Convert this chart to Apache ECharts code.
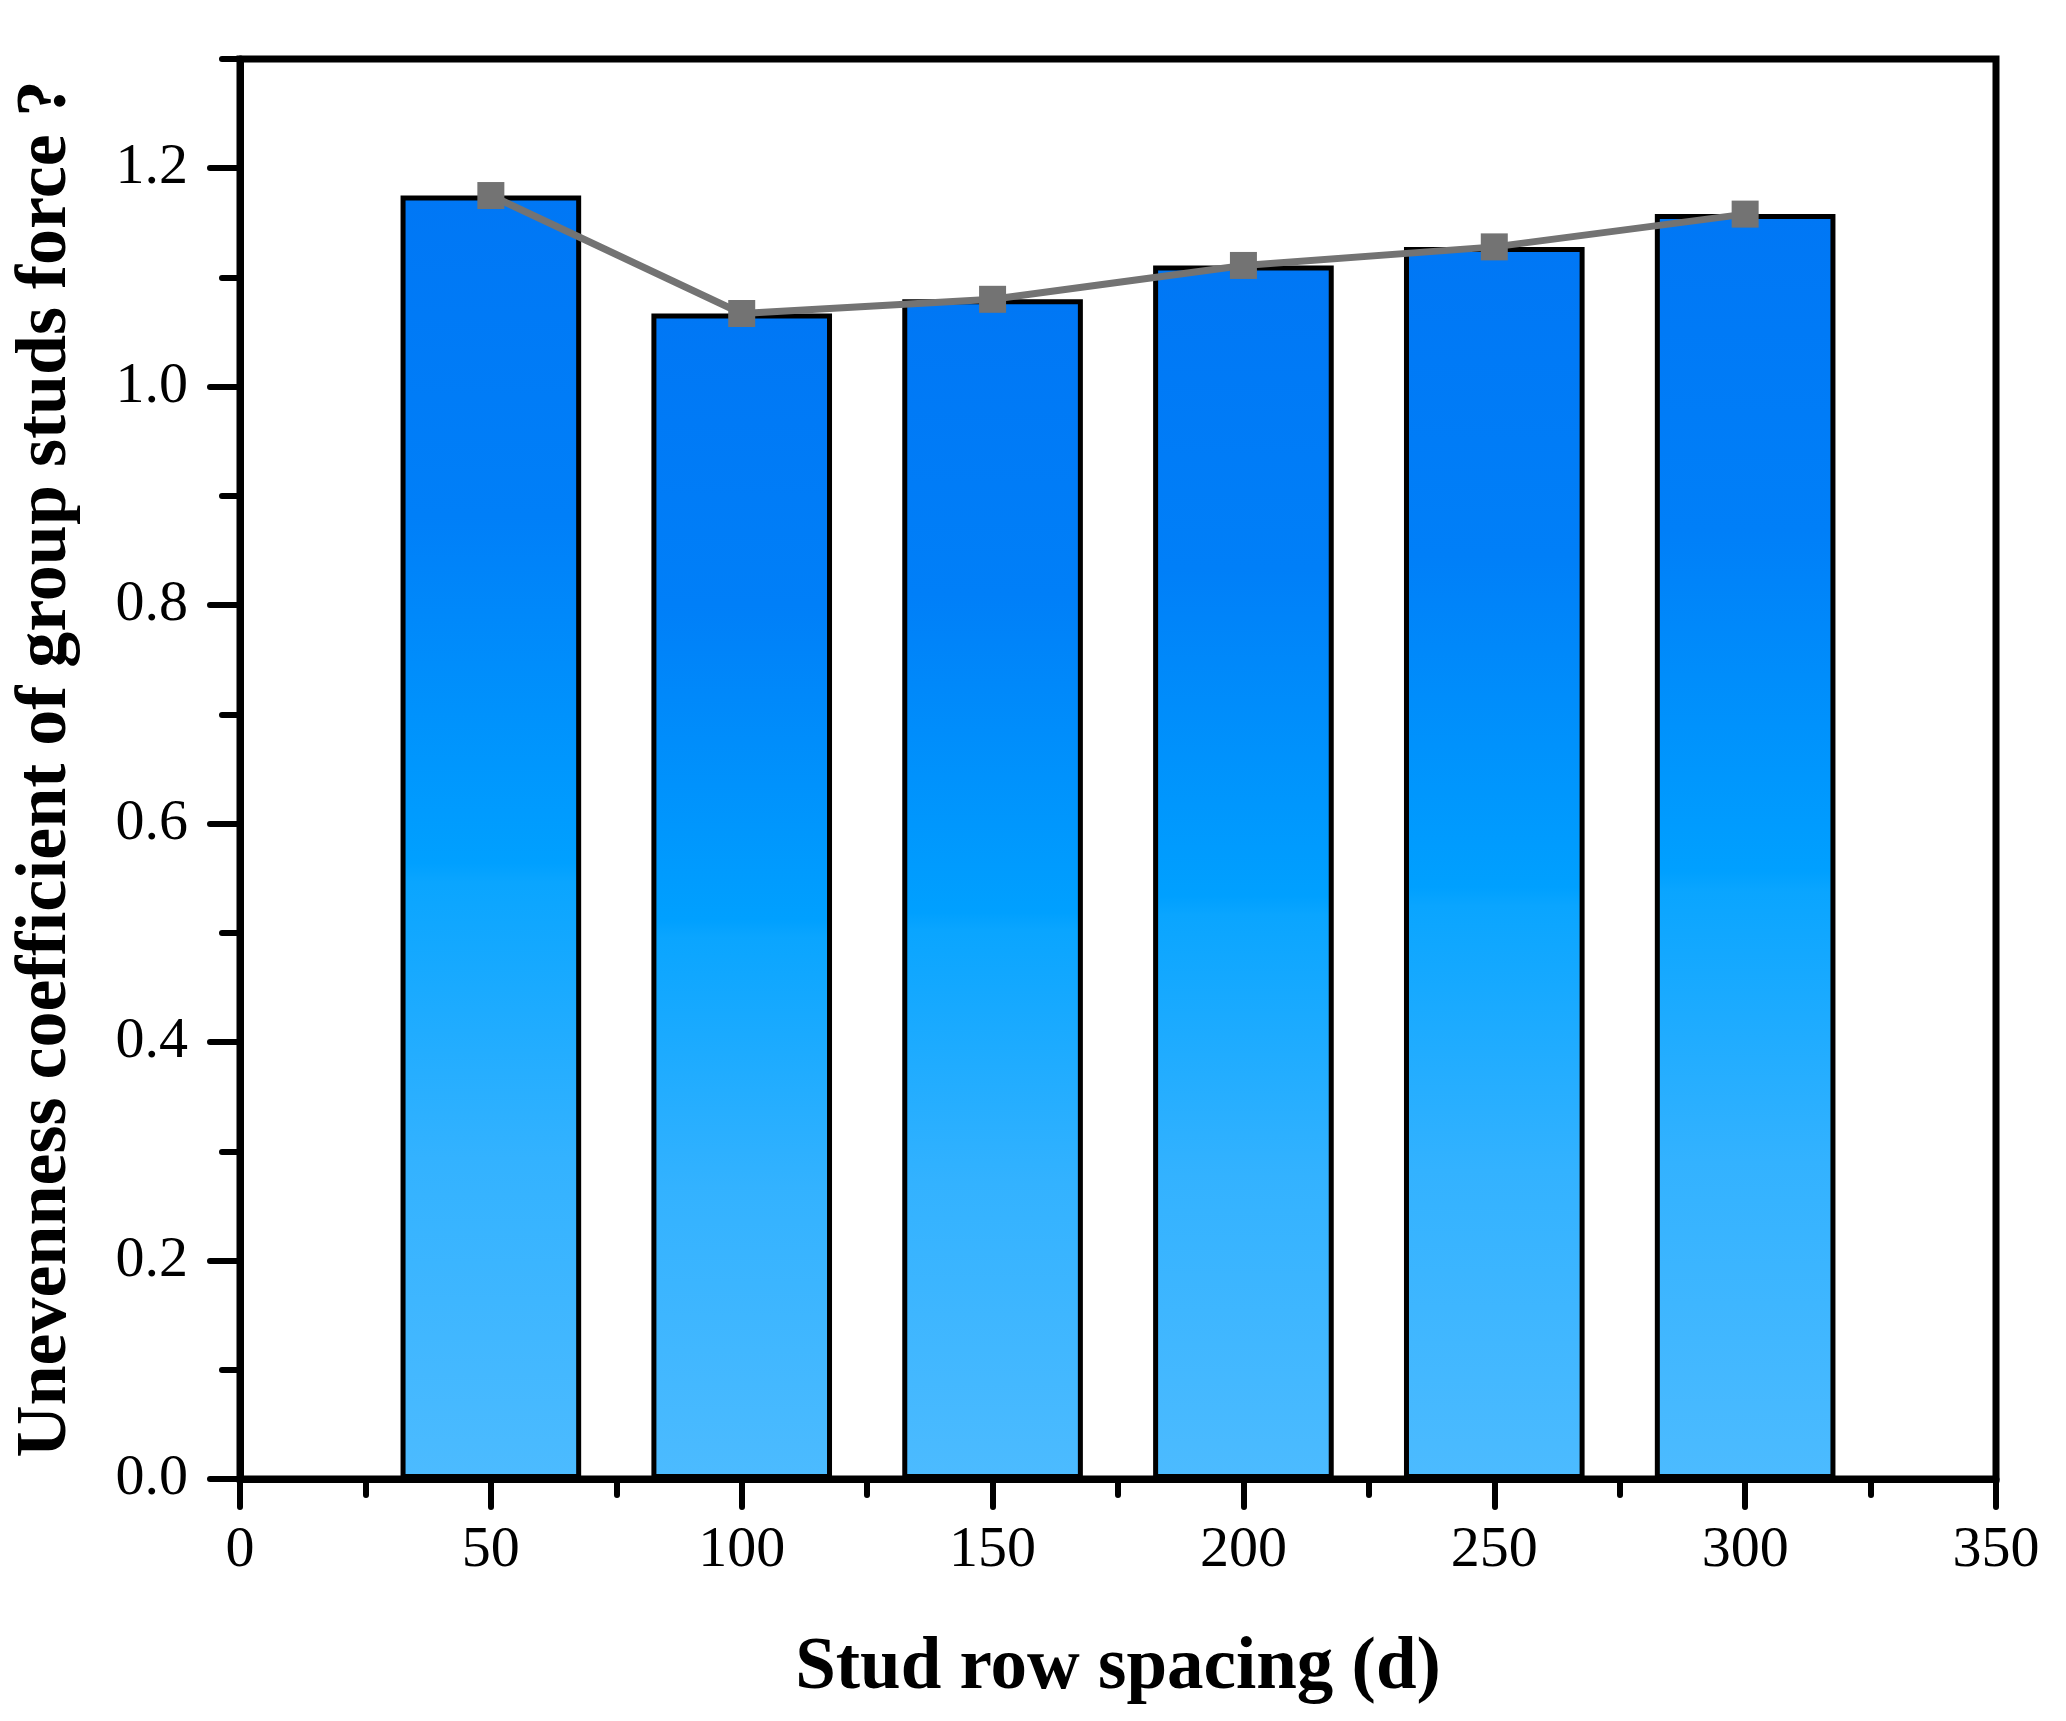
<!DOCTYPE html>
<html><head><meta charset="utf-8">
<script src="https://cdn.jsdelivr.net/npm/echarts@6/dist/echarts.min.js"></script>
<style>html,body{margin:0;padding:0;background:#fff}#c{width:2066px;height:1721px}</style>
</head><body><div id="c"></div>
<script>
const spacing = [50, 100, 150, 200, 250, 300];
const coefficient = [1.175, 1.067, 1.080, 1.111, 1.128, 1.158];
const xTicks = [0, 50, 100, 150, 200, 250, 300, 350];
const yMajorTicks = [0, 0.2, 0.4, 0.6, 0.8, 1.0, 1.2];
const yMinorTicks = [0.1, 0.3, 0.5, 0.7, 0.9, 1.1, 1.3];
const xTitle = 'Stud row spacing (d)';
const yTitle = 'Unevenness coefficient of group studs force ?';

const FONT = "'Liberation Serif','Times New Roman',serif";
const pairs = spacing.map((x, i) => [x, coefficient[i]]);

const chart = echarts.init(document.getElementById('c'), null, {renderer: 'canvas'});
const gridRect = {left: 240, right: 70, top: 59, bottom: 242};
chart.setOption({
  animation: false,
  backgroundColor: '#fff',
  grid: [
    Object.assign({show: true, borderColor: '#000', borderWidth: 7, backgroundColor: 'transparent', containLabel: false}, gridRect),
    Object.assign({show: false, containLabel: false}, gridRect)
  ],
  xAxis: [{
    type: 'value', gridIndex: 0,
    min: xTicks[0], max: xTicks[xTicks.length - 1], interval: 50,
    name: xTitle, nameLocation: 'middle', nameGap: 154,
    nameTextStyle: {fontFamily: FONT, fontWeight: 'bold', fontSize: 73, color: '#000'},
    axisLine: {show: true, lineStyle: {color: '#000', width: 7}},
    axisTick: {show: true, inside: false, length: 28, lineStyle: {color: '#000', width: 6, cap: 'round'}},
    minorTick: {show: true, splitNumber: 2, length: 16, lineStyle: {color: '#000', width: 6, cap: 'round'}},
    axisLabel: {show: true, margin: 43, fontFamily: FONT, fontSize: 58, color: '#000', customValues: xTicks},
    splitLine: {show: false}, minorSplitLine: {show: false}
  }, {
    type: 'value', gridIndex: 1, min: 0, max: 350, show: false
  }],
  yAxis: [{
    type: 'value', gridIndex: 0,
    min: 0, max: 1.3, interval: 0.2,
    name: yTitle, nameLocation: 'middle', nameGap: 158, nameRotate: 90,
    nameTextStyle: {fontFamily: FONT, fontWeight: 'bold', fontSize: 72, color: '#000'},
    axisLine: {show: true, lineStyle: {color: '#000', width: 7}},
    axisTick: {show: true, inside: false, length: 30, customValues: yMajorTicks, lineStyle: {color: '#000', width: 6, cap: 'round'}},
    axisLabel: {show: true, margin: 52, fontFamily: FONT, fontSize: 58, color: '#000', customValues: yMajorTicks,
      formatter: v => Number(v).toFixed(1)},
    splitLine: {show: false}
  }, {
    type: 'value', gridIndex: 1,
    min: 0, max: 1.3,
    axisLine: {show: false},
    axisTick: {show: true, inside: false, length: 18, customValues: yMinorTicks, lineStyle: {color: '#000', width: 6, cap: 'round'}},
    axisLabel: {show: false},
    splitLine: {show: false}
  }],
  series: [{
    type: 'bar',
    xAxisIndex: 0, yAxisIndex: 0,
    data: pairs,
    barWidth: '72%',
    itemStyle: {
      borderColor: '#000', borderWidth: 5,
      color: new echarts.graphic.LinearGradient(0, 0, 0, 1, [
        {offset: 0, color: '#0077F5'},
        {offset: 0.25, color: '#007FF8'},
        {offset: 0.52, color: '#00A0FF'},
        {offset: 0.535, color: '#0AA5FF'},
        {offset: 0.75, color: '#33B2FF'},
        {offset: 1, color: '#4CBBFF'}
      ])
    },
    z: 2
  }, {
    type: 'line',
    xAxisIndex: 0, yAxisIndex: 0,
    data: pairs,
    symbol: 'rect', symbolSize: 27,
    lineStyle: {color: '#737373', width: 7},
    itemStyle: {color: '#737373'},
    z: 5
  }]
});
</script>
</body></html>
